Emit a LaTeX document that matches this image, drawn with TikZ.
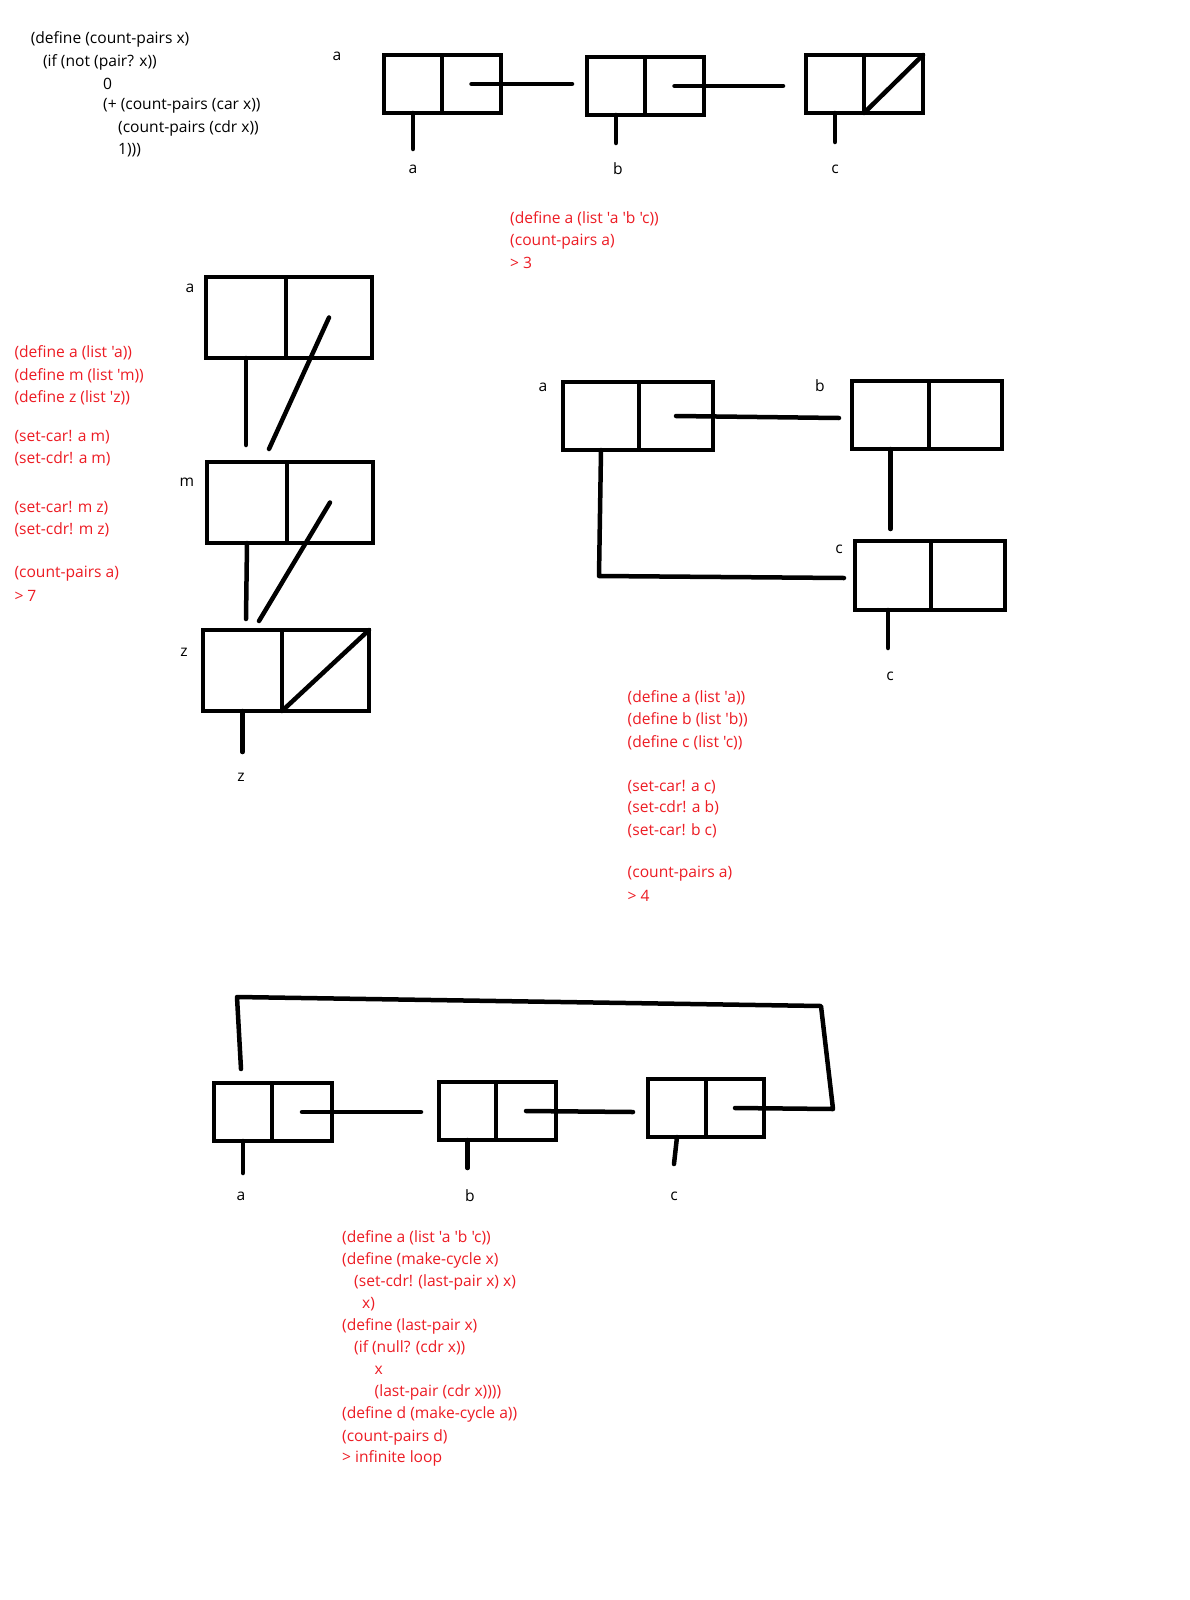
\documentclass[tikz,border=0pt]{standalone}
\usepackage{fontspec}
\setmainfont{Open Sans}[Ligatures=TeXOff]
\definecolor{paintred}{RGB}{237,28,36}
\tikzset{
  ln/.style={line width=4.5pt, line cap=round, line join=round},
  cellbox/.style={draw, line width=4.5pt, inner sep=0pt, outer sep=0pt, anchor=north west},
  codeline/.style={anchor=west, inner sep=0pt, yshift=-2pt, font=\fontsize{15.6}{18}\selectfont},
  redcode/.style={codeline, text=paintred},
  lbl/.style={inner sep=0pt, yshift=-2pt, font=\fontsize{15.6}{18}\selectfont},
}
\newcommand\conscell[6]{%
  \pgfmathsetmacro\cwa{#3-#2}\pgfmathsetmacro\cwb{#4-#3}\pgfmathsetmacro\cht{#6-#5}%
  \node[cellbox, minimum width=\cwa pt, minimum height=\cht pt] (#1-car) at (#2,#5) {};
  \node[cellbox, minimum width=\cwb pt, minimum height=\cht pt] (#1-cdr) at (#3,#5) {};
}
\begin{document}
\begin{tikzpicture}[x=1pt,y=-1pt]
\useasboundingbox[fill=white] (0,0) rectangle (1190,1600);

% ---------- top code ----------
\node[codeline] (c1) at (30.6,37.8) {(define (count-pairs x)};
\node[codeline] (c2) at (42.9,60.2) {(if (not (pair? x))};
\node[codeline] (c3) at (103,81.6) {0};
\node[codeline] (c4) at (103,104) {(+ (count-pairs (car x))};
\node[codeline] (c5) at (118,126.5) {(count-pairs (cdr x))};
\node[codeline] (c6) at (118,148) {1)))};

% ---------- diagram 1 ----------
\conscell{p1}{384}{442}{501}{55}{113}
\conscell{p2}{587}{645}{704}{57}{115}
\conscell{p3}{806}{864}{923}{55}{113}
\coordinate (e1) at (572,84);
\coordinate (e2) at (783,86);
\draw[ln] (p1-cdr.center) -- (e1);
\draw[ln] (p2-cdr.center) -- (e2);
\draw[ln] (p3-cdr.south west) -- (p3-cdr.north east);
\draw[ln] (p1-car.south) -- ++(0,36);
\draw[ln] (p2-car.south) -- ++(0,28);
\draw[ln] (p3-car.south) -- ++(0,29);
\node[lbl] (la0) at (337,54) {a};
\node[lbl] (la1) at (413,167) {a};
\node[lbl] (lb1) at (618,167) {b};
\node[lbl] (lc1) at (835,167) {c};
\node[redcode] (r11) at (510,217) {(define a (list 'a 'b 'c))};
\node[redcode] (r12) at (510,240) {(count-pairs a)};
\node[redcode] (r13) at (510,261) {> 3};

% ---------- diagram 2 ----------
\conscell{q1}{206}{286}{372}{277}{358}
\conscell{q2}{207}{287}{373}{462}{543}
\conscell{q3}{203}{282}{369}{630}{711}
\coordinate (f1) at (269,449);
\coordinate (f2) at (259,621);
\draw[ln] (q1-car.south) -- ++(0,87);
\draw[ln] (q1-cdr.center) -- (f1);
\draw[ln] (q2-car.south) -- ++(-1,76);
\draw[ln] (q2-cdr.center) -- (f2);
\draw[ln] (q3-cdr.south west) -- (q3-cdr.north east);
\draw[ln] (q3-car.south) -- ++(0,41);
\node[lbl] (la2) at (190,286) {a};
\node[lbl] (lm2) at (187,480) {m};
\node[lbl] (lz2) at (184,650) {z};
\node[lbl] (lz2b) at (241,775) {z};
\node[redcode] (r21) at (14.3,351) {(define a (list 'a))};
\node[redcode] (r22) at (14.3,373.5) {(define m (list 'm))};
\node[redcode] (r23) at (14.3,396) {(define z (list 'z))};
\node[redcode] (r24) at (14.3,435) {(set-car! a m)};
\node[redcode] (r25) at (14.3,457) {(set-cdr! a m)};
\node[redcode] (r26) at (14.3,506) {(set-car! m z)};
\node[redcode] (r27) at (14.3,528) {(set-cdr! m z)};
\node[redcode] (r28) at (14.3,571.4) {(count-pairs a)};
\node[redcode] (r29) at (14.3,594) {> 7};

% ---------- diagram 3 ----------
\conscell{t1}{563}{639}{713}{382}{450}
\conscell{t2}{852}{929}{1002}{381}{449}
\conscell{t3}{855}{931}{1005}{541}{610}
\coordinate (g1) at (839,418);
\coordinate (g2) at (844,578);
\draw[ln] (t1-cdr.center) -- (g1);
\draw[ln] (t1-car.south) -- ++(-2,126) -- (g2);
\draw[ln] (t2-car.south) -- ++(0,80);
\draw[ln] ([xshift=-5pt]t3-car.south) -- ++(0,38);
\node[lbl] (la3) at (543,385) {a};
\node[lbl] (lb3) at (820,384) {b};
\node[lbl] (lc3) at (839,547) {c};
\node[lbl] (lc3b) at (890,674) {c};
\node[redcode] (r31) at (627.5,696) {(define a (list 'a))};
\node[redcode] (r32) at (627.5,718) {(define b (list 'b))};
\node[redcode] (r33) at (627.5,741) {(define c (list 'c))};
\node[redcode] (r34) at (627.5,785) {(set-car! a c)};
\node[redcode] (r35) at (627.5,806) {(set-cdr! a b)};
\node[redcode] (r36) at (627.5,829) {(set-car! b c)};
\node[redcode] (r37) at (627.5,872) {(count-pairs a)};
\node[redcode] (r38) at (627.5,894) {> 4};

% ---------- diagram 4 ----------
\conscell{s1}{214}{272}{332}{1083}{1141}
\conscell{s2}{439}{496}{556}{1082}{1140}
\conscell{s3}{648}{706}{764}{1079}{1137}
\coordinate (h1) at (421,1112);
\coordinate (h2) at (633,1112);
\coordinate (k1) at (833,1109);
\coordinate (k2) at (821,1006);
\coordinate (k3) at (237,997);
\coordinate (k4) at (241,1069);
\draw[ln] (s1-cdr.center) -- (h1);
\draw[ln] (s2-cdr.center) -- (h2);
\draw[ln] (s3-cdr.center) -- (k1) -- (k2) -- (k3) -- (k4);
\draw[ln] (s1-car.south) -- ++(0,32);
\draw[ln] (s2-car.south) -- ++(0,28);
\draw[ln] (s3-car.south) -- ++(-3,27);
\node[lbl] (la4) at (241,1194) {a};
\node[lbl] (lb4) at (470,1194) {b};
\node[lbl] (lc4) at (674,1194) {c};
\node[redcode] (r41) at (342,1236) {(define a (list 'a 'b 'c))};
\node[redcode] (r42) at (342,1258) {(define (make-cycle x)};
\node[redcode] (r43) at (354,1280) {(set-cdr! (last-pair x) x)};
\node[redcode] (r44) at (362,1302) {x)};
\node[redcode] (r45) at (342,1324.5) {(define (last-pair x)};
\node[redcode] (r46) at (354,1346) {(if (null? (cdr x))};
\node[redcode] (r47) at (374.5,1368) {x};
\node[redcode] (r48) at (374.5,1390) {(last-pair (cdr x))))};
\node[redcode] (r49) at (342,1412) {(define d (make-cycle a))};
\node[redcode] (r410) at (342,1435) {(count-pairs d)};
\node[redcode] (r411) at (342,1456) {> infinite loop};
\end{tikzpicture}
\end{document}
